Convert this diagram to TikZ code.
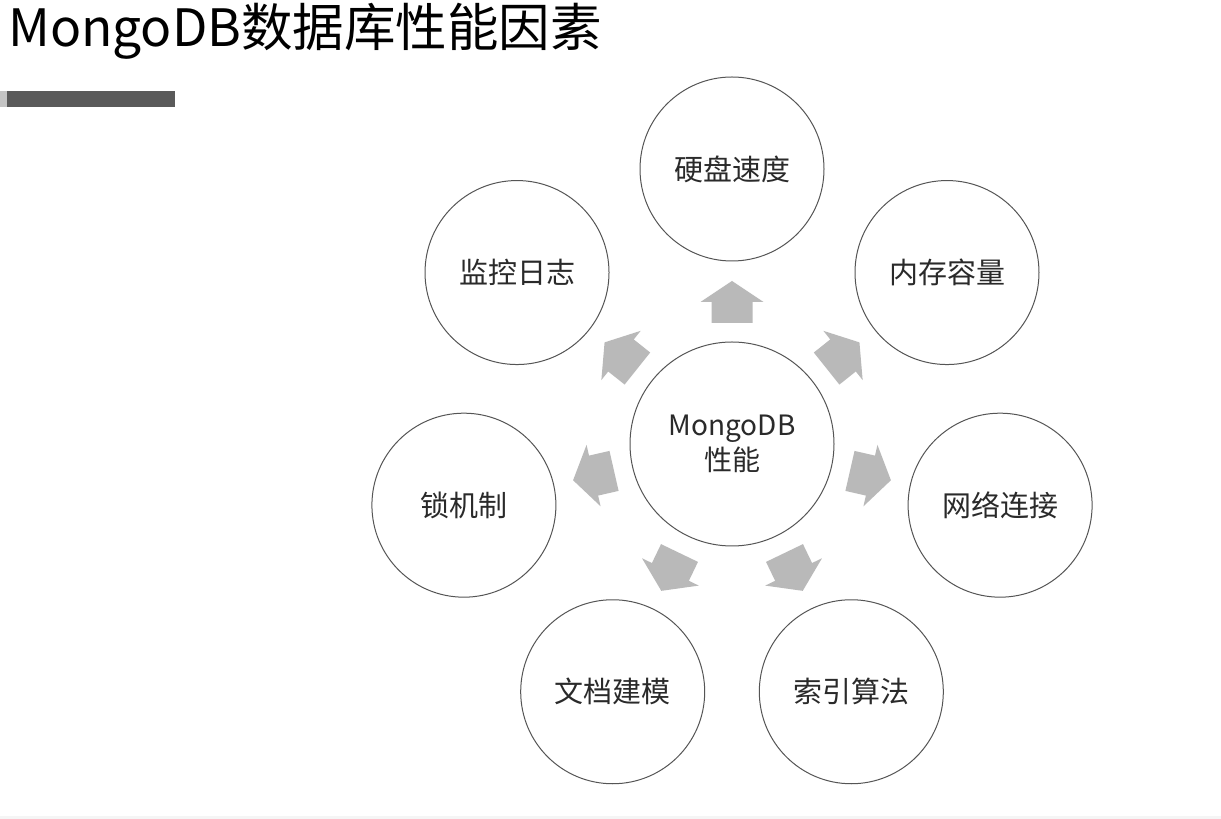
\documentclass[tikz,border=0pt]{standalone}
\usepackage{fontspec}
\setmainfont{Noto Sans CJK SC}
\usepackage{tikz}
\usetikzlibrary{calc}
\definecolor{ringgray}{HTML}{555555}
\definecolor{arrowgray}{HTML}{B9B9B9}
\definecolor{bargray}{HTML}{5A5A5A}
\definecolor{tipgray}{HTML}{C4C4C4}
\definecolor{textgray}{HTML}{2A2A2A}

\begin{document}
\begin{tikzpicture}[x=1pt, y=1pt,
		factor/.style={circle, draw=ringgray, line width=1pt, minimum size=184pt, inner sep=0pt,
			text=textgray, font=\fontsize{29}{37}\selectfont},
		core/.style={factor, minimum size=204pt, align=center, font=\fontsize{28}{36}\selectfont}]
			\useasboundingbox (0,0) rectangle (1221,819);
			\fill[white] (0,0) rectangle (1221,819);
			\fill[black!4] (0,0) rectangle (1221,3);
			% title and bar
			\node[anchor=base west, inner sep=0pt, font=\fontsize{51.5}{60}\selectfont] (title) at (8,772) {MongoDB数据库性能因素};
			\fill[bargray] (7,728) rectangle (175,712);
			\fill[tipgray] (0,728) rectangle (7,712);
			% centre and factors
			\node[core] (core) at (732,375) {MongoDB\\[-1pt]性能};
			\foreach \txt [count=\i] in {硬盘速度,内存容量,网络连接,索引算法,文档建模,锁机制,监控日志}
				\path (core.center) ++({90-(\i-1)*360/7}:275) node[factor] (f\i) {\txt};
			% block arrows
			\foreach \i [evaluate=\i as \ang using 90-(\i-1)*360/7] in {1,...,7}
				\fill[arrowgray, shift={(core.center)}, rotate=\ang]
					(121,-20.5) -- (142,-20.5) -- (142,-31.5) -- (163,0) -- (142,31.5) -- (142,20.5) -- (121,20.5) -- cycle;
		\end{tikzpicture}
\end{document}
